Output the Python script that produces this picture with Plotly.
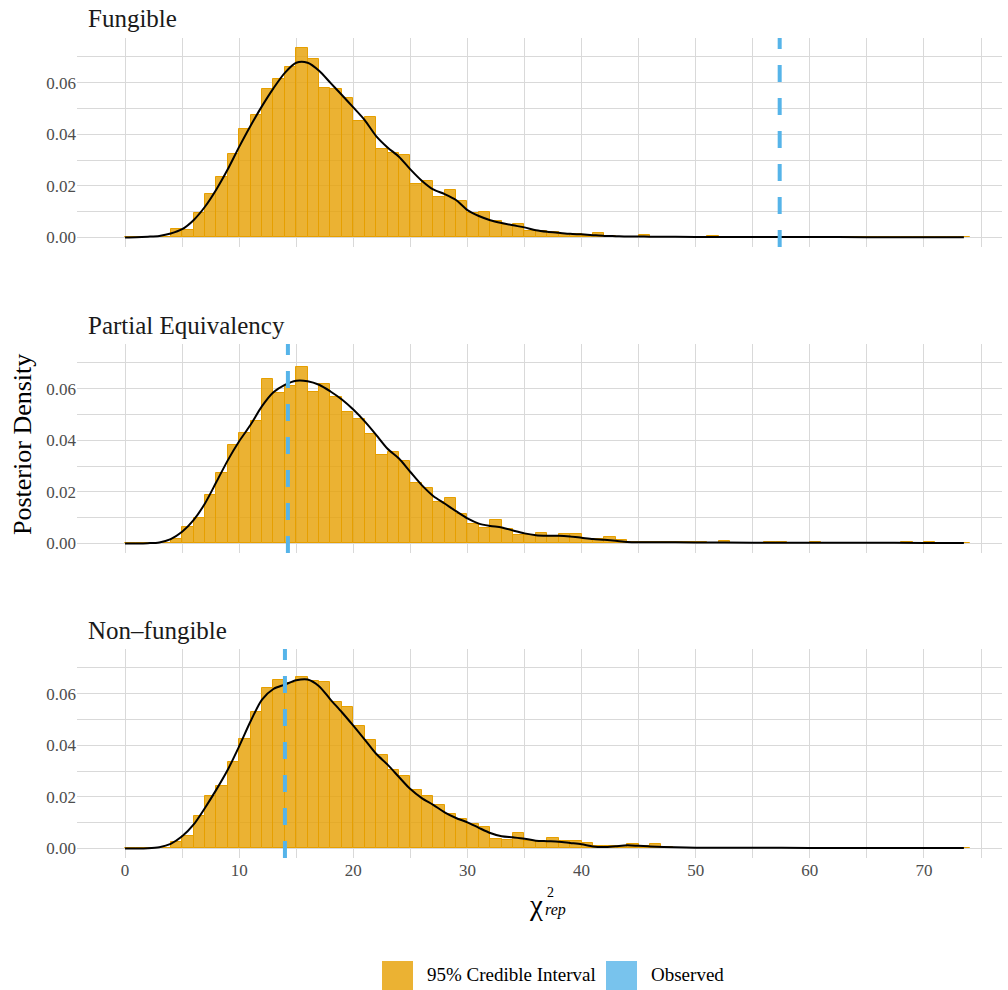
import plotly.graph_objects as go
from plotly.subplots import make_subplots

# ---- data -------------------------------------------------------------
models = ["Fungible", "Partial Equivalency", "Non–fungible"]
observed_chi2 = [57.36, 14.27, 14.01]

# histogram bins of width 1: left edges 0..73
bin_left = list(range(0, 74))

hist_fungible = [
    0, 0, 0, 0.0002, 0.0031, 0.0028, 0.0093, 0.0168, 0.0234, 0.0324,
    0.0419, 0.0474, 0.0574, 0.0616, 0.0659, 0.0736, 0.0692, 0.0580, 0.0575, 0.0539,
    0.0452, 0.0468, 0.0342, 0.0328, 0.0319, 0.0209, 0.0220, 0.0158, 0.0183, 0.0142,
    0.0096, 0.0097, 0.0065, 0.0050, 0.0052, 0.0026, 0.0026, 0.0022, 0.0013, 0.0013,
    0.0006, 0.0018, 0.0005, 0.0003, 0.0003, 0.0010, 0.0003, 0.0002, 0.0002, 0.0002,
    0.0002, 0.0006, 0.0002, 0.0002, 0.0001, 0.0002, 0.0001, 0.0002, 0.0001, 0.0001,
    0.0003, 0.0001, 0.0002, 0.0001, 0.0001, 0.0002, 0.0001, 0.0001, 0.0001, 0.0002,
    0.0001, 0.0001, 0.0001, 0.0002,
]
hist_partial = [
    0, 0, 0, 0.0002, 0.0019, 0.0063, 0.0097, 0.0186, 0.0273, 0.0380,
    0.0430, 0.0476, 0.0639, 0.0584, 0.0612, 0.0682, 0.0588, 0.0619, 0.0566, 0.0510,
    0.0483, 0.0425, 0.0344, 0.0356, 0.0321, 0.0235, 0.0216, 0.0159, 0.0178, 0.0116,
    0.0077, 0.0061, 0.0090, 0.0055, 0.0033, 0.0032, 0.0039, 0.0026, 0.0035, 0.0035,
    0.0017, 0.0017, 0.0024, 0.0013, 0.0006, 0.0006, 0.0004, 0.0005, 0.0004, 0.0007,
    0.0004, 0.0003, 0.0010, 0.0003, 0.0002, 0.0003, 0.0005, 0.0005, 0.0002, 0.0003,
    0.0005, 0.0002, 0.0002, 0.0003, 0.0002, 0.0002, 0.0002, 0.0003, 0.0005, 0.0003,
    0.0005, 0.0002, 0.0002, 0.0002,
]
hist_nonfungible = [
    0, 0, 0, 0.0003, 0.0026, 0.0049, 0.0127, 0.0202, 0.0243, 0.0334,
    0.0424, 0.0530, 0.0622, 0.0652, 0.0642, 0.0665, 0.0648, 0.0646, 0.0567, 0.0547,
    0.0476, 0.0422, 0.0364, 0.0305, 0.0282, 0.0225, 0.0202, 0.0167, 0.0135, 0.0114,
    0.0096, 0.0083, 0.0038, 0.0034, 0.0060, 0.0027, 0.0025, 0.0040, 0.0028, 0.0028,
    0.0021, 0.0008, 0.0008, 0.0010, 0.0019, 0.0010, 0.0017, 0.0004, 0.0003, 0.0002,
    0.0003, 0.0002, 0.0002, 0.0003, 0.0002, 0.0002, 0.0002, 0.0001, 0.0002, 0.0002,
    0.0003, 0.0001, 0.0002, 0.0001, 0.0002, 0.0001, 0.0001, 0.0002, 0.0001, 0.0001,
    0.0002, 0.0001, 0.0001, 0.0002,
]

# kernel density estimates evaluated on a grid
dens_x = list(range(0, 47)) + [50, 55, 60, 65, 70, 73.5]
dens_fungible = [
    0, 0.0001, 0.0003, 0.0006, 0.0015, 0.0032, 0.0067, 0.0119, 0.0186, 0.0264,
    0.0351, 0.0433, 0.0509, 0.0578, 0.0638, 0.0677, 0.0677, 0.0646, 0.0599, 0.0552,
    0.0504, 0.0455, 0.0393, 0.0349, 0.0313, 0.0264, 0.0220, 0.0186, 0.0168, 0.0145,
    0.0106, 0.0083, 0.0067, 0.0056, 0.0047, 0.0039, 0.0028, 0.0022, 0.0018, 0.0014,
    0.0012, 0.0009, 0.0006, 0.0005, 0.0004, 0.0004, 0.0003,
    0.0002, 0.0002, 0.0002, 0.0001, 0.0001, 0.0001,
]
dens_partial = [
    0, 0, 0.0001, 0.0004, 0.0017, 0.0045, 0.0090, 0.0155, 0.0238, 0.0322,
    0.0396, 0.0460, 0.0532, 0.0586, 0.0615, 0.0631, 0.0629, 0.0615, 0.0589, 0.0558,
    0.0519, 0.0473, 0.0421, 0.0367, 0.0329, 0.0277, 0.0226, 0.0184, 0.0155, 0.0125,
    0.0097, 0.0077, 0.0068, 0.0062, 0.0050, 0.0039, 0.0032, 0.0030, 0.0030, 0.0027,
    0.0022, 0.0017, 0.0014, 0.0010, 0.0006, 0.0005, 0.0005,
    0.0004, 0.0003, 0.0003, 0.0003, 0.0002, 0.0002,
]
dens_nonfungible = [
    0, 0, 0.0001, 0.0005, 0.0018, 0.0047, 0.0092, 0.0157, 0.0228, 0.0305,
    0.0396, 0.0493, 0.0577, 0.0618, 0.0635, 0.0652, 0.0655, 0.0629, 0.0577, 0.0528,
    0.0476, 0.0422, 0.0367, 0.0325, 0.0277, 0.0230, 0.0195, 0.0169, 0.0140, 0.0118,
    0.0101, 0.0080, 0.0060, 0.0047, 0.0043, 0.0038, 0.0030, 0.0028, 0.0026, 0.0021,
    0.0016, 0.0008, 0.0006, 0.0009, 0.0012, 0.0010, 0.0008,
    0.0003, 0.0003, 0.0002, 0.0002, 0.0002, 0.0002,
]

hists = [hist_fungible, hist_partial, hist_nonfungible]
dens = [dens_fungible, dens_partial, dens_nonfungible]

x_ticks = [0, 10, 20, 30, 40, 50, 60, 70]
y_ticks = [0.00, 0.02, 0.04, 0.06]

# ---- styling ------------------------------------------------------------
FONT = "Liberation Serif"
ORANGE = "#E69F00"
ORANGE_FILL = "rgba(230,159,0,0.8)"
BLUE = "#56B4E9"
GRID = "#D9D9D9"

W, H = 1008, 990
L, R, T, B = 77, 6, 38, 132
PW, PH = W - L - R, H - T - B


def px(x):
    return (x - L) / PW


def py(y):
    return (H - B - y) / PH


panel_px = [(38, 247), (344, 553), (649, 858)]  # top, bottom of each panel

fig = make_subplots(rows=3, cols=1, shared_xaxes=True)

bin_centre = [b + 0.5 for b in bin_left]
for i in range(3):
    fig.add_trace(go.Bar(
        x=bin_centre, y=hists[i], width=1,
        marker=dict(color=ORANGE_FILL, line=dict(color=ORANGE, width=1)),
        showlegend=False, hoverinfo="skip",
    ), row=i + 1, col=1)
    fig.add_trace(go.Scatter(
        x=dens_x, y=dens[i], mode="lines",
        line=dict(color="black", width=2, shape="spline", smoothing=0.8),
        showlegend=False, hoverinfo="skip",
    ), row=i + 1, col=1)

axis_common = dict(
    showline=False, zeroline=False, ticks="",
    gridcolor=GRID, gridwidth=1.3,
    tickfont=dict(family=FONT, size=17, color="#4D4D4D"),
)

shapes = []
annotations = []
for i in range(3):
    top, bot = panel_px[i]
    yname = "yaxis" if i == 0 else f"yaxis{i + 1}"
    xname = "xaxis" if i == 0 else f"xaxis{i + 1}"
    fig.update_layout(**{
        yname: dict(
            domain=[py(bot), py(top)], range=[-0.0037, 0.0773],
            tickvals=y_ticks, ticktext=[f"{v:.2f}" for v in y_ticks],
            minor=dict(dtick=0.01, tick0=0, showgrid=True, gridcolor=GRID, gridwidth=1.3),
            **axis_common,
        ),
        xname: dict(
            range=[-4.21, 76.84],
            tickvals=x_ticks, ticktext=[str(v) for v in x_ticks],
            showticklabels=(i == 2),
            minor=dict(dtick=5, tick0=0, showgrid=True, gridcolor=GRID, gridwidth=1.3),
            **axis_common,
        ),
    })
    xref = "x" if i == 0 else f"x{i + 1}"
    yref = "y domain" if i == 0 else f"y{i + 1} domain"
    shapes.append(dict(
        type="line", xref=xref, yref=yref,
        x0=observed_chi2[i], x1=observed_chi2[i], y0=0, y1=1,
        line=dict(color=BLUE, width=4, dash="17px,16px"),
    ))
    annotations.append(dict(
        text=models[i], xref="paper", yref="paper",
        x=px(86), y=py(top - 19), xanchor="left", yanchor="middle",
        showarrow=False, font=dict(family=FONT, size=25, color="#1A1A1A"),
    ))

# axis titles
annotations.append(dict(
    text="Posterior Density", textangle=-90, xref="paper", yref="paper",
    x=px(22), y=py(445), xanchor="center", yanchor="middle",
    showarrow=False, font=dict(family=FONT, size=26, color="black"),
))
annotations.append(dict(
    text="χ", xref="paper", yref="paper", x=px(536), y=py(905),
    xanchor="center", yanchor="middle", showarrow=False,
    font=dict(family=FONT, size=29, color="black"),
))
annotations.append(dict(
    text="2", xref="paper", yref="paper", x=px(545), y=py(892),
    xanchor="left", yanchor="middle", showarrow=False,
    font=dict(family=FONT, size=14, color="black"),
))
annotations.append(dict(
    text="<i>rep</i>", xref="paper", yref="paper", x=px(543), y=py(910),
    xanchor="left", yanchor="middle", showarrow=False,
    font=dict(family=FONT, size=16, color="black"),
))

# legend drawn as keys + labels below the panels
legend_items = [("95% Credible Interval", "#EBB233", 382), ("Observed", "#78C3ED", 606)]
for label, colour, kx in legend_items:
    shapes.append(dict(
        type="rect", xref="paper", yref="paper",
        x0=px(kx), x1=px(kx + 31), y0=py(990), y1=py(961),
        fillcolor=colour, line=dict(width=0),
    ))
    annotations.append(dict(
        text=label, xref="paper", yref="paper", x=px(kx + 43), y=py(975),
        xanchor="left", yanchor="middle", showarrow=False,
        font=dict(family=FONT, size=19, color="black"),
    ))

fig.update_layout(
    width=W, height=H,
    margin=dict(l=L, r=R, t=T, b=B, pad=0),
    plot_bgcolor="white", paper_bgcolor="white",
    bargap=0, barmode="overlay",
    shapes=shapes, annotations=annotations,
    showlegend=False,
    font=dict(family=FONT),
)

fig.write_html("out.html")
